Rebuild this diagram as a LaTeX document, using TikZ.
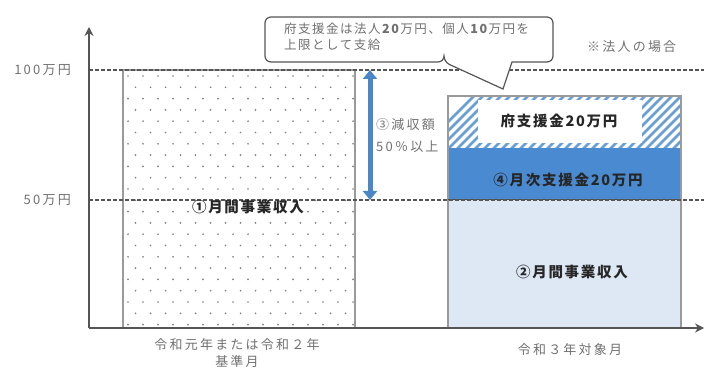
\documentclass[tikz,border=0pt]{standalone}
\usepackage{fontspec}
\setmainfont{Noto Sans CJK JP}
\newfontfamily\jp{Noto Sans CJK JP}
\newfontfamily\jpg[LetterSpace=17]{Noto Sans CJK JP}
\newfontfamily\jpc[LetterSpace=12]{Noto Sans CJK JP}
\newfontfamily\jpb[LetterSpace=12]{Noto Sans CJK JP}
\usetikzlibrary{arrows.meta}
\definecolor{axisgray}{HTML}{555555}
\definecolor{txtgray}{HTML}{707070}
\definecolor{boxgray}{HTML}{9A9A9A}
\definecolor{darkblue}{HTML}{4A8AD0}
\definecolor{lightblue}{HTML}{DEE8F5}
\definecolor{hatchblue}{HTML}{6A9FD6}
\definecolor{arrowblue}{HTML}{4A86C8}
\tikzset{
  axisline/.style={draw=axisgray, line width=1.8pt, -{Stealth[length=9pt,width=9pt]}},
  guide/.style={draw=axisgray, line width=1.2pt, dash pattern=on 3.5pt off 2.5pt},
  lbl/.style={font=\jpb\bfseries\fontsize{14.5}{16}\selectfont, text=black!85, inner sep=0pt},
  glbl/.style={font=\jpg\fontsize{13}{15}\selectfont, text=txtgray, inner sep=0pt, align=center},
}
\begin{document}
\begin{tikzpicture}[x=1pt,y=-1pt]
\useasboundingbox (0,0) rectangle (704,374);
% left box with dots
\fill[white] (123,70) rectangle (355,328);
\begin{scope}
\clip (123,70) rectangle (355,328);
\foreach \r in {0,...,22} {
  \pgfmathsetmacro{\yy}{76+\r*11.3}
  \pgfmathsetmacro{\off}{mod(\r,2)*7.5}
  \foreach \c in {0,...,16} {
    \fill[black!50] ({128+\off+\c*15},\yy) circle (0.95pt);
  }
}
\end{scope}
\draw[boxgray, line width=1.4pt] (123,328) -- (123,70) -- (355,70) -- (355,328);
% right stacked bar
\fill[lightblue] (448,200) rectangle (681,328);
\fill[darkblue] (448,148) rectangle (681,200);
\begin{scope}
\clip (448,96) rectangle (681,148);
\foreach \k in {0,...,36} {
  \draw[hatchblue, line width=2.6pt] ({420+\k*9},150) -- ({420+\k*9+56},94);
}
\end{scope}
\fill[white] (478,100) rectangle (642,143);
\draw[boxgray, line width=1.2pt] (448,328) -- (448,96) -- (681,96) -- (681,328);
\draw[black!70, line width=1pt] (448,200) -- (681,200);
% guide lines
\draw[guide] (89,70) -- (704,70);
\draw[guide] (89,200) -- (704,200);
% axes
\coordinate (o) at (89,328);
\coordinate (ytop) at (89,27);
\coordinate (xend) at (704,328);
\draw[axisline] (o) -- (ytop);
\draw[axisline, line width=1.4pt] (o) -- (xend);
% y labels
\node[glbl, anchor=east] (l100) at (71,70) {100万円};
\node[glbl, anchor=east] (l50) at (71,200) {50万円};
% blue double arrow
\coordinate (atop) at (370,70);
\coordinate (abot) at (370,200);
\draw[arrowblue, line width=5pt, {Triangle[width=14pt,length=9pt]}-{Triangle[width=14pt,length=9pt]}] (atop) -- (abot);
\node[glbl, anchor=west, align=left, font=\jpg\fontsize{13}{22}\selectfont] (gen) at (376,136) {③減収額\\50％以上};
% bar labels
\node[lbl] (m1) at (248,207) {①月間事業収入};
\node[lbl] (m2) at (572,272) {②月間事業収入};
\node[lbl] (m4) at (568,180) {④月次支援金20万円};
\node[lbl] (fu) at (559,121) {府支援金20万円};
% bottom labels
\node[glbl, font=\jpg\fontsize{13}{17}\selectfont] (b1) at (237,353) {令和元年または令和２年\\基準月};
\node[glbl] (b2) at (570,350) {令和３年対象月};
% note
\node[glbl, anchor=west] (note) at (587,47) {※法人の場合};
% callout
\draw[axisgray, line width=1.2pt, fill=white] (444,62) -- (503,89) -- (512,62)
  [rounded corners=6pt] -- (553,62) -- (553,17) -- (265,17) -- (265,62) -- (444,62) -- cycle;
\node[glbl, anchor=north west, align=left, font=\jpc\fontsize{12.5}{16}\selectfont] (call) at (284,23) {府支援金は法人\textbf{20}万円、個人\textbf{10}万円を\\上限として支給};
\end{tikzpicture}
\end{document}
